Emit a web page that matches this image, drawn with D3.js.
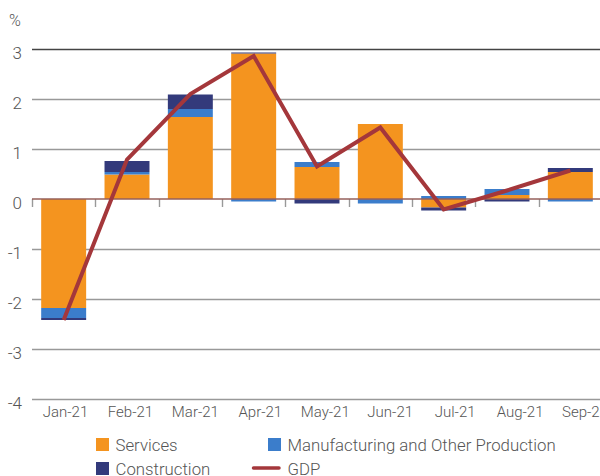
<!DOCTYPE html>
<html>
<head>
<meta charset="utf-8">
<script src="https://cdn.jsdelivr.net/npm/d3@7"></script>
<style>
  body { margin: 0; background: #fff; }
  svg { display: block; font-family: Roboto, "Noto Sans", sans-serif; font-weight: 300; }
  .tick-label { fill: #555; }
</style>
</head>
<body>
<svg id="chart" width="600" height="476"></svg>
<script>
// contributions to monthly GDP growth, % points
var months = ["Jan-21", "Feb-21", "Mar-21", "Apr-21", "May-21", "Jun-21", "Jul-21", "Aug-21", "Sep-21"];
var services = [-2.18, 0.49, 1.64, 2.91, 0.64, 1.50, -0.17, 0.08, 0.54];
var manufacturing = [-0.20, 0.05, 0.16, -0.05, 0.10, -0.09, 0.06, 0.12, -0.05];
var construction = [-0.04, 0.22, 0.29, 0.02, -0.09, 0.00, -0.06, -0.05, 0.08];
var gdp = [-2.42, 0.79, 2.10, 2.86, 0.65, 1.43, -0.21, 0.17, 0.57];
var yTicks = [-4, -3, -2, -1, 0, 1, 2, 3];

var series = [
  { key: "services", name: "Services", color: "#f4941f", values: services },
  { key: "manufacturing", name: "Manufacturing and Other Production", color: "#3b7dcb", values: manufacturing },
  { key: "construction", name: "Construction", color: "#333a7b", values: construction }
];
var gdpColor = "#a4373b";

var svg = d3.select("#chart");

var x = d3.scaleBand()
    .domain(months)
    .range([32, 602])
    .paddingInner(0.29)
    .paddingOuter(0.145);

// the month labels sit on a slightly wider spacing than the bars
var xLabel = d3.scalePoint()
    .domain(months)
    .range([65.5, 585]);

var y = d3.scaleLinear()
    .domain([-4, 3])
    .range([399, 49]);

// gridlines
svg.append("g").selectAll("line")
    .data(yTicks.filter(function(d) { return d !== 0; }))
  .enter().append("line")
    .attr("x1", 32)
    .attr("x2", 600)
    .attr("y1", function(d) { return Math.round(y(d)) + 0.5; })
    .attr("y2", function(d) { return Math.round(y(d)) + 0.5; })
    .style("stroke", function(d) { return d === 3 ? "#444" : "#999"; })
    .style("stroke-width", 1.4);

// y labels
svg.append("g").selectAll("text")
    .data(yTicks)
  .enter().append("text")
    .attr("class", "tick-label")
    .attr("x", 22)
    .attr("y", function(d) { return y(d) + 10; })
    .attr("text-anchor", "end")
    .style("font-size", "17px")
    .text(function(d) { return d; });

svg.append("text")
    .attr("class", "tick-label")
    .attr("x", 9)
    .attr("y", 26)
    .style("font-size", "16px")
    .text("%");

// tick marks at the band edges, under the zero line
var edges = months.map(function(m) { return x(m) - x.step() * x.paddingInner() / 2; });
edges[0] = 32;
svg.append("g").selectAll("line")
    .data(edges)
  .enter().append("line")
    .attr("x1", function(d) { return Math.round(d) + 0.5; })
    .attr("x2", function(d) { return Math.round(d) + 0.5; })
    .attr("y1", y(0))
    .attr("y2", y(0) + 8)
    .style("stroke", "#999")
    .style("stroke-width", 1.4);

// stacked bars
var rows = months.map(function(m, i) {
  var r = { month: m };
  series.forEach(function(s) { r[s.key] = s.values[i]; });
  return r;
});

var stack = d3.stack()
    .keys(series.map(function(s) { return s.key; }))
    .offset(d3.stackOffsetDiverging);

var layers = stack(rows);

svg.append("g").selectAll("g")
    .data(layers)
  .enter().append("g")
    .style("fill", function(d, i) { return series[i].color; })
  .selectAll("rect")
    .data(function(d) { return d; })
  .enter().append("rect")
    .attr("x", function(d) { return x(d.data.month); })
    .attr("width", x.bandwidth())
    .attr("y", function(d) { return y(Math.max(d[0], d[1])); })
    .attr("height", function(d) { return Math.abs(y(d[0]) - y(d[1])); });

// zero line
svg.append("line")
    .attr("x1", 32)
    .attr("x2", 600)
    .attr("y1", y(0))
    .attr("y2", y(0))
    .style("stroke", "#96605b")
    .style("stroke-width", 1.5);

// GDP line
var line = d3.line()
    .x(function(d, i) { return x(months[i]) + x.bandwidth() / 2; })
    .y(function(d) { return y(d); });

svg.append("path")
    .datum(gdp)
    .attr("d", line)
    .style("fill", "none")
    .style("stroke", gdpColor)
    .style("stroke-width", 4)
    .style("stroke-linejoin", "miter");

// x labels
svg.append("g").selectAll("text")
    .data(months)
  .enter().append("text")
    .attr("class", "tick-label")
    .attr("x", function(d) { return xLabel(d); })
    .attr("y", 417)
    .attr("text-anchor", "middle")
    .style("font-size", "15px")
    .text(function(d) { return d; });

// legend
var legendItems = [
  { name: "Services", color: series[0].color, type: "box", x: 96, y: 438 },
  { name: "Manufacturing and Other Production", color: series[1].color, type: "box", x: 268, y: 438 },
  { name: "Construction", color: series[2].color, type: "box", x: 96, y: 462 },
  { name: "GDP", color: gdpColor, type: "line", x: 252, y: 462 }
];

var legend = svg.append("g").selectAll("g")
    .data(legendItems)
  .enter().append("g")
    .attr("transform", function(d) { return "translate(" + d.x + "," + d.y + ")"; });

legend.filter(function(d) { return d.type === "box"; })
  .append("rect")
    .attr("width", 13)
    .attr("height", 13)
    .style("fill", function(d) { return d.color; });

legend.filter(function(d) { return d.type === "line"; })
  .append("line")
    .attr("x1", 1.5)
    .attr("x2", 27)
    .attr("y1", 6)
    .attr("y2", 6)
    .style("stroke", function(d) { return d.color; })
    .style("stroke-width", 3.5)
    .style("stroke-linecap", "round");

legend.append("text")
    .attr("class", "tick-label")
    .attr("x", function(d) { return d.type === "box" ? 19.5 : 35.5; })
    .attr("y", 13)
    .style("font-size", "16.8px")
    .text(function(d) { return d.name; });
</script>
</body>
</html>
